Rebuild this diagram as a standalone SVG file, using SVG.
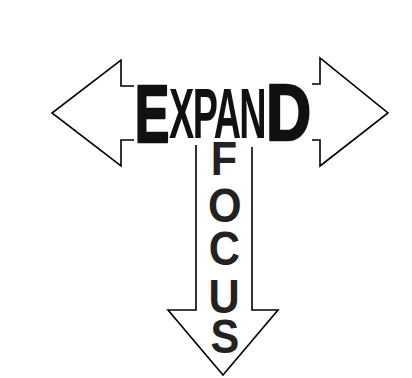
<svg xmlns="http://www.w3.org/2000/svg" width="412" height="378" viewBox="0 0 412 378">
  <style>
    .arrow { fill: none; stroke: #000; stroke-width: 1.6; stroke-linejoin: miter; }
    .ex { font-family: "Liberation Sans", Arial, sans-serif; font-weight: bold; fill: #111; }
    .heavy { stroke: #111; stroke-width: 2.5; stroke-linejoin: round; text-anchor: middle; }
    .fo { font-family: "Liberation Sans", Arial, sans-serif; font-weight: bold; fill: #222; text-anchor: middle; font-size: 48px; }
  </style>
  <rect width="412" height="378" fill="#fff"/>
  <g id="arrows">
    <polyline id="arrow-left" class="arrow" points="134,86 121,86 121,60 52,113 121,166 121,140 134,140"/>
    <polyline id="arrow-right" class="arrow" points="312,84 320,84 320,58 388,113 320,166 320,140 312,140"/>
    <polyline id="arrow-down" class="arrow" points="196,145 196,310 168,310 223,375 278,310 252,310 252,147"/>
  </g>
  <g id="expand">
    <text class="ex heavy" font-size="81" transform="translate(152,142) scale(0.64,1)">E</text>
    <text class="ex" font-size="70" transform="translate(169,138) scale(0.54,1)"><tspan x="0">X</tspan><tspan x="44">P</tspan><tspan x="83">A</tspan><tspan x="130">N</tspan></text>
    <text class="ex heavy" font-size="80" transform="translate(288.5,140) scale(0.78,1)">D</text>
  </g>
  <g id="focus">
    <text class="fo" transform="translate(224,0) scale(0.9,1)"><tspan x="0" y="175">F</tspan><tspan x="1" y="222">O</tspan><tspan x="0.5" y="265">C</tspan><tspan x="0" y="313">U</tspan><tspan x="1" y="353">S</tspan></text>
  </g>
</svg>
